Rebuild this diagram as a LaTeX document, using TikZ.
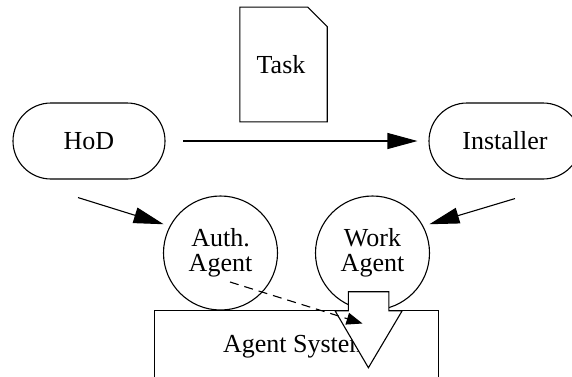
\documentclass[tikz,border=0pt]{standalone}
\usepackage{fontspec}
\setmainfont{Liberation Serif}
\usetikzlibrary{arrows.meta}
\tikzset{
  every node/.style={font=\fontsize{26}{25}\selectfont, align=center, inner sep=0pt},
  ln/.style={line width=1.1pt},
  stadium/.style={ln, draw, rectangle, rounded corners=38pt, minimum width=152pt, minimum height=76pt},
  agentcirc/.style={ln, draw, circle, minimum size=114pt},
  sysbox/.style={ln, draw, rectangle, minimum width=284pt, minimum height=72.6pt},
  docshape/.style={minimum width=87pt, minimum height=114.4pt},
  bigarrow/.style={ln, -{Triangle[length=30pt,width=16pt]}},
  dasharrow/.style={ln, dash pattern=on 9pt off 6pt, -{Triangle[length=16pt,width=12pt]}},
  pusharrow/.style={ln, draw, fill=white, line join=miter}
}
\begin{document}
\begin{tikzpicture}[x=1pt, y=-1pt]
\path[use as bounding box] (0,0) rectangle (572,376);
\clip (0,0) rectangle (572,376);
% Task document
\node[docshape] (task) at (283.5,64.5) {\hspace*{-5pt}Task};
\draw[ln, line join=miter] (task.north west) -- ([xshift=-19.4pt]task.north east)
  -- ([yshift=-19.4pt]task.north east) -- (task.south east) -- (task.south west) -- cycle;
% actors
\node[stadium] (hod) at (89,141) {HoD};
\node[stadium] (inst) at (505,141) {Installer};
% agent system box
\node[sysbox] (sys) at (296.3,347) {Agent System};
% agents
\node[agentcirc] (auth) at (220.5,253) {Auth.\\Agent};
\node[agentcirc] (work) at (372.5,253) {Work\\Agent};
% connectors
\draw[bigarrow, shorten <=17.7pt, shorten >=11pt] (hod.east) -- (inst.west);
\draw[bigarrow] ([shift={(-11pt,-18pt)}]hod.south) -- ([xshift=-7pt]auth.150);
\draw[bigarrow] ([shift={(10pt,-19pt)}]inst.south) -- ([xshift=7pt]work.30);
% push arrow into the agent system
\coordinate (push) at (368.6,291.7);
\path[pusharrow] (push) ++(-20.3,0) -- ++(40.6,0) -- ++(0,19) -- ++(13.3,0)
  -- (368.4,367.7) -- (335,310.7) -- (348.3,310.7) -- cycle;
% dashed arrow
\coordinate (dashend) at (362.5,323.5);
\draw[dasharrow] ([shift={(9.5pt,-29pt)}]auth.center) -- (dashend);
\end{tikzpicture}
\end{document}
